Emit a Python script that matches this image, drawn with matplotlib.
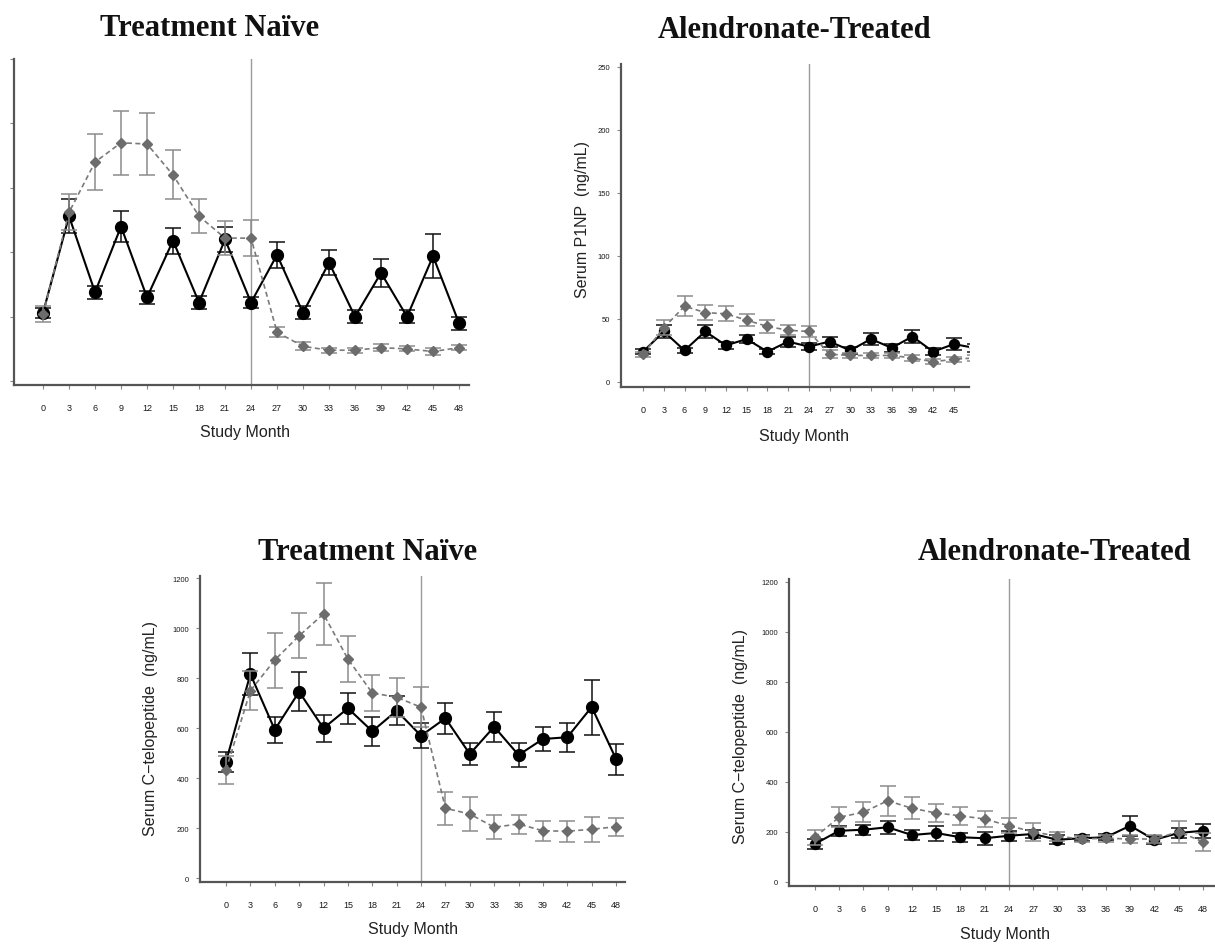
import numpy as np
import matplotlib
matplotlib.use("Agg")
import matplotlib.pyplot as plt

plt.rcParams.update({
    "font.family": ["Liberation Sans", "DejaVu Sans"],
    "axes.spines.top": False, "axes.spines.right": False,
})

W, H = 1215, 945

months = [0, 3, 6, 9, 12, 15, 18, 21, 24, 27, 30, 33, 36, 39, 42, 45, 48]

# Serum P1NP, treatment naive (black = solid, gray = dashed)
p1np_naive_blk = [53, 128, 69, 120, 65, 109, 61, 110, 61, 98, 53, 92, 50, 84, 50, 97, 45]
p1np_naive_blk_err = [4, 13, 5, 12, 5, 10, 5, 10, 4, 10, 5, 10, 5, 11, 5, 17, 5]
p1np_naive_gry = [52, 131, 170, 185, 184, 160, 128, 111, 111, 38, 27, 24, 24, 26, 25, 23, 26]
p1np_naive_gry_err = [6, 14, 22, 25, 24, 19, 13, 13, 14, 4, 3, 2, 2, 3, 2, 3, 2]

# Serum P1NP, alendronate-treated
p1np_aln_blk = [24, 40, 25, 40, 29, 34, 24, 32, 28, 32, 25, 34, 27, 36, 24, 30, 27]
p1np_aln_blk_err = [2, 5, 2, 5, 3, 3, 2, 4, 3, 4, 3, 5, 3, 5, 3, 5, 3]
p1np_aln_gry = [22, 43, 60, 55, 54, 49, 44, 41, 40, 22, 21, 21, 21, 19, 16, 18, 19]
p1np_aln_gry_err = [2, 6, 8, 6, 6, 5, 5, 4, 4, 3, 2, 2, 2, 2, 2, 2, 2]

# Serum C-telopeptide, treatment naive
ctx_naive_blk = [465, 816, 593, 745, 599, 679, 587, 669, 569, 639, 496, 605, 492, 556, 563, 684, 476]
ctx_naive_blk_err = [40, 85, 53, 78, 53, 62, 58, 58, 50, 62, 45, 60, 48, 48, 58, 110, 62]
ctx_naive_gry = [433, 749, 872, 969, 1056, 876, 740, 723, 683, 279, 256, 203, 216, 189, 187, 195, 205]
ctx_naive_gry_err = [55, 78, 110, 90, 125, 93, 72, 77, 80, 65, 68, 48, 38, 40, 42, 50, 35]

# Serum C-telopeptide, alendronate-treated
ctx_aln_blk = [152, 205, 209, 219, 188, 196, 179, 175, 185, 192, 169, 175, 179, 225, 169, 196, 205]
ctx_aln_blk_err = [20, 20, 20, 25, 20, 30, 18, 25, 20, 15, 18, 12, 12, 40, 15, 20, 27]
ctx_aln_gry = [179, 259, 279, 325, 295, 276, 265, 252, 225, 201, 183, 172, 175, 172, 172, 201, 161]
ctx_aln_gry_err = [30, 40, 40, 60, 44, 35, 37, 33, 30, 35, 18, 12, 15, 15, 15, 44, 35]

title_naive = "Treatment Na\u00efve"
title_aln = "Alendronate-Treated"
ylab_p1np = "Serum P1NP  (ng/mL)"
ylab_ctx = "Serum C\u2212telopeptide  (ng/mL)"
xlab = "Study Month"

fig = plt.figure(figsize=(W / 100, H / 100), dpi=100)


def px_axes(l, t, r, b):
    return fig.add_axes([l / W, 1 - b / H, (r - l) / W, (b - t) / H])


def panel(ax, blk, blk_err, gry, gry_err, xlim, ylim, yticks, show_ylabels, ms_c):
    ax.errorbar(months, blk, yerr=blk_err, color="black", lw=1.5, marker="o",
                ms=ms_c, mfc="black", mec="black", ecolor="#111111",
                elinewidth=1.1, capsize=6, capthick=1.1, zorder=3)
    ax.errorbar(months, gry, yerr=gry_err, color="#7a7a7a", lw=1.2, ls=(0, (3, 2)),
                marker="D", ms=5, mfc="#6c6c6c", mec="#6c6c6c", ecolor="#8c8c8c",
                elinewidth=1.1, capsize=6, capthick=1.1, zorder=4)
    ax.axvline(24, color="#9a9a9a", lw=1.0, zorder=1)
    ax.set_xticks(months)
    ax.set_xticklabels([str(m) for m in months])
    ax.set_yticks(yticks)
    if not show_ylabels:
        ax.set_yticklabels([])
    # limits after the ticks, so ticks outside the crop don't widen the view
    ax.set_xlim(*xlim)
    ax.set_ylim(*ylim)
    for s in ("left", "bottom"):
        ax.spines[s].set_color("#555555")
        ax.spines[s].set_linewidth(1.6)
    ax.tick_params(axis="x", length=3, width=0.8, color="#888888", pad=10,
                   labelsize=6.5, labelcolor="#1a1a1a")
    ax.tick_params(axis="y", length=3, width=0.8, color="#888888", pad=5,
                   labelsize=5.5, labelcolor="#1a1a1a")


# top-left: treatment naive P1NP (cropped at left edge)
ax1 = px_axes(14, 60, 469, 386)
panel(ax1, p1np_naive_blk, p1np_naive_blk_err, p1np_naive_gry, p1np_naive_gry_err,
      (-3.35, 49.15), (-3, 250), [0, 50, 100, 150, 200, 250], False, 8.5)

# top-right: alendronate P1NP (cropped at right edge)
ax2 = px_axes(621, 65, 969, 388)
panel(ax2, p1np_aln_blk, p1np_aln_blk_err, p1np_aln_gry, p1np_aln_gry_err,
      (-3.2, 47.2), (-4, 252), [0, 50, 100, 150, 200, 250], True, 7.2)

# bottom-left: treatment naive CTX
ax3 = px_axes(200, 577, 625, 883)
panel(ax3, ctx_naive_blk, ctx_naive_blk_err, ctx_naive_gry, ctx_naive_gry_err,
      (-3.2, 49.1), (-16, 1208), [0, 200, 400, 600, 800, 1000, 1200], True, 8.5)

# bottom-right: alendronate CTX
ax4 = px_axes(789, 580, 1215, 887)
panel(ax4, ctx_aln_blk, ctx_aln_blk_err, ctx_aln_gry, ctx_aln_gry_err,
      (-3.2, 49.5), (-16, 1212), [0, 200, 400, 600, 800, 1000, 1200], True, 7.2)


def ftext(x, y, s, **kw):
    fig.text(x / W, 1 - y / H, s, ha="center", va="center", **kw)


tkw = dict(family=["Liberation Serif", "DejaVu Serif"], fontweight="bold",
           fontsize=22, color="#111111")
ftext(210, 28, title_naive, **tkw)
ftext(795, 30, title_aln, **tkw)
ftext(368, 553, title_naive, **tkw)
ftext(1055, 553, title_aln, **tkw)

lkw = dict(fontsize=11.5, color="#222222")
ftext(245, 433, xlab, **lkw)
ftext(804, 437, xlab, **lkw)
ftext(413, 930, xlab, **lkw)
ftext(1005, 935, xlab, **lkw)

ftext(583, 220, ylab_p1np, rotation=90, **lkw)
ftext(150, 729, ylab_ctx, rotation=90, **lkw)
ftext(740, 737, ylab_ctx, rotation=90, **lkw)

fig.savefig("out.png", dpi=100, facecolor="white")
